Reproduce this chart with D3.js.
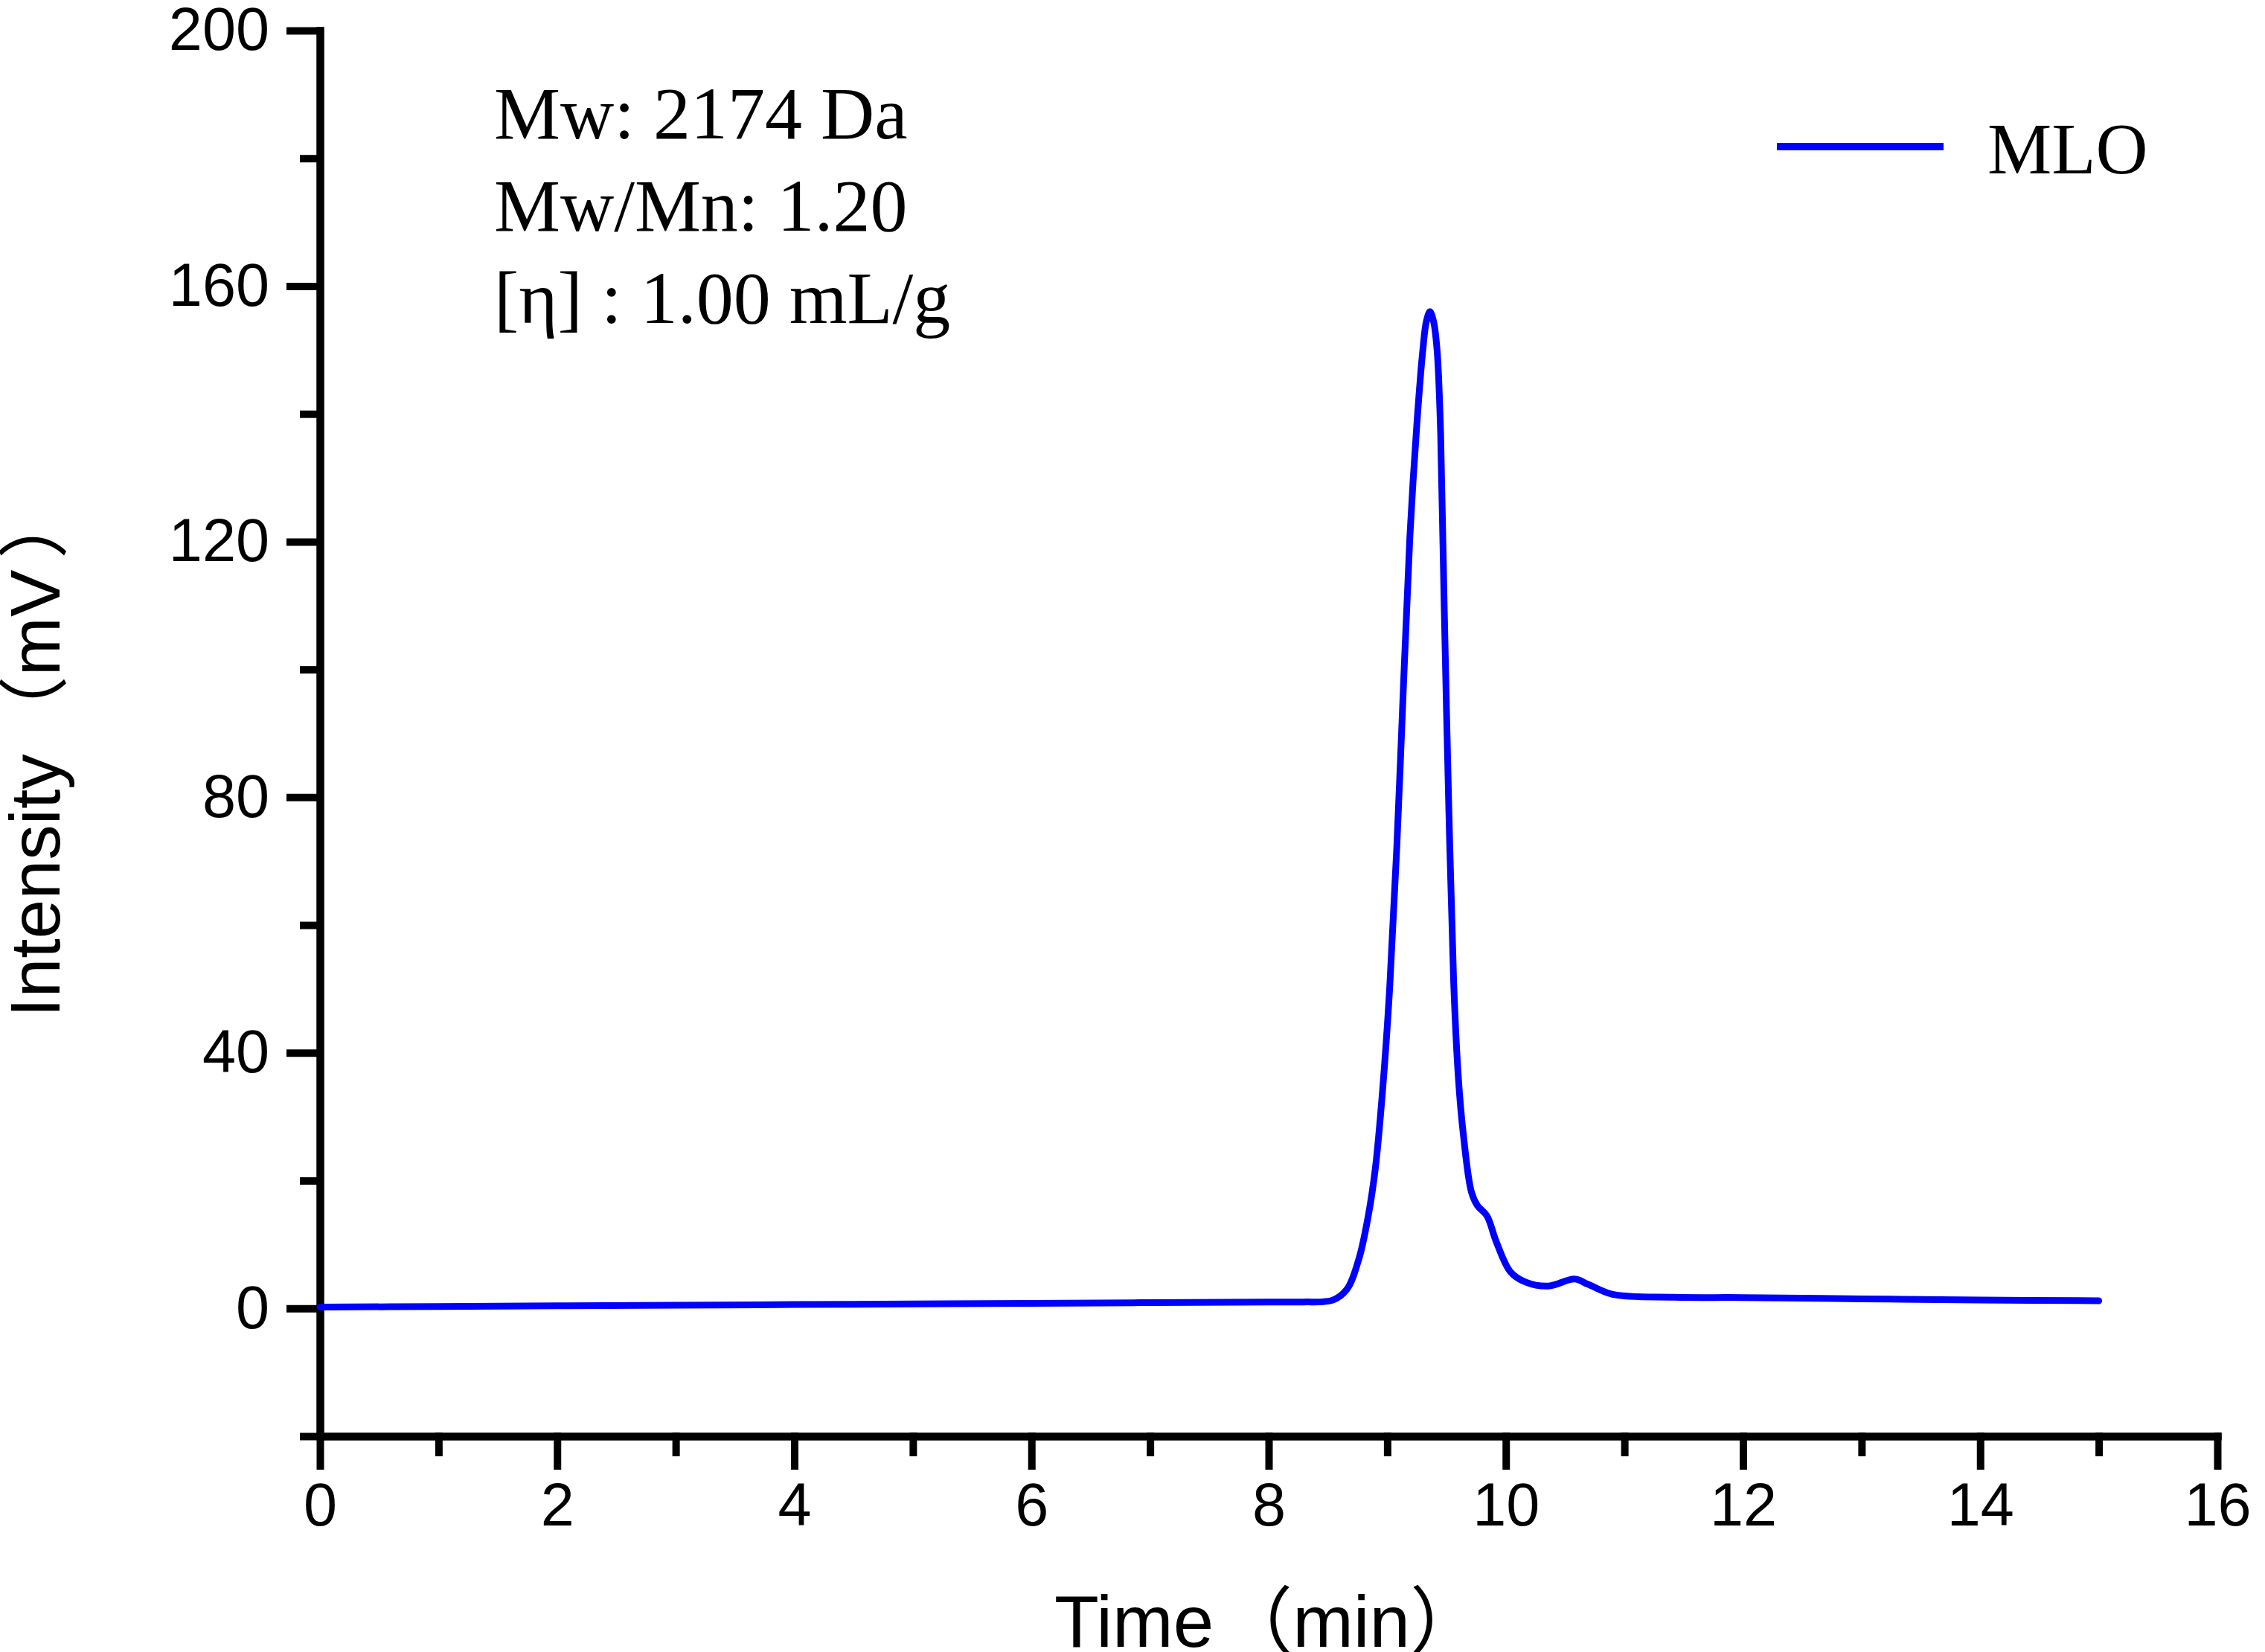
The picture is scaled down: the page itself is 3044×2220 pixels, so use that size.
<!DOCTYPE html>
<html>
<head>
<meta charset="utf-8">
<script src="https://cdn.jsdelivr.net/npm/d3@7"></script>
<style>
  body { margin: 0; background: #fff; }
  svg { display: block; }
</style>
</head>
<body>
<div id="chart"></div>
<script>
// GPC trace
var timeMin = [0, 1, 2, 3, 4, 5, 6, 7, 8, 8.29, 8.54, 8.66, 8.76, 8.84, 8.9, 8.96, 9.02, 9.08, 9.14, 9.19,
  9.25, 9.3, 9.33, 9.36, 9.39, 9.42, 9.45, 9.48, 9.52, 9.56, 9.6, 9.64, 9.71, 9.76, 9.84, 9.92, 10.04, 10.17,
  10.36, 10.58, 10.69, 10.9, 11.42, 12, 13, 14, 15]
var intensity = [0.2, 0.3, 0.4, 0.5, 0.6, 0.7, 0.8, 0.9, 1.0, 1.0, 1.3, 3.0, 7.7, 14.5, 22, 34, 50, 72, 99, 120.5,
  138.5, 150, 154.5, 156, 154.5, 150, 137, 110, 77.5, 51, 36, 27.5, 18.2, 16.1, 14.5, 10.4, 5.7, 4.1,
  3.5, 4.6, 3.8, 2.2, 1.75, 1.7, 1.5, 1.3, 1.2]

var xMajor = [0, 2, 4, 6, 8, 10, 12, 14, 16]
var xMinor = [1, 3, 5, 7, 9, 11, 13, 15]
var yMajor = [0, 40, 80, 120, 160, 200]
var yMinor = [-20, 20, 60, 100, 140, 180]

var notes = ["Mw: 2174 Da", "Mw/Mn: 1.20", "[η] : 1.00 mL/g"]
var seriesName = "MLO"

var W = 3044, H = 2220
var margin = {top: 41, right: 64, bottom: 290, left: 430}

var svg = d3.select("#chart").append("svg")
  .attr("width", W)
  .attr("height", H)

var x = d3.scaleLinear().domain([0, 16]).range([margin.left, W - margin.right])
var y = d3.scaleLinear().domain([-20, 200]).range([H - margin.bottom, margin.top])

var sans = "'Liberation Sans', Arial, 'Noto Sans CJK SC', sans-serif"
var serif = "'Liberation Serif', 'Times New Roman', serif"

// minor ticks first, then the major axis on top
svg.append("g")
  .attr("transform", "translate(0," + y(-20) + ")")
  .call(d3.axisBottom(x).tickValues(xMinor).tickSize(22).tickSizeOuter(0).tickFormat(""))
svg.append("g")
  .attr("transform", "translate(" + x(0) + ",0)")
  .call(d3.axisLeft(y).tickValues(yMinor).tickSize(22).tickSizeOuter(0).tickFormat(""))

svg.append("g")
  .attr("transform", "translate(0," + y(-20) + ")")
  .call(d3.axisBottom(x).tickValues(xMajor).tickSize(40).tickSizeOuter(0).tickPadding(22))
svg.append("g")
  .attr("transform", "translate(" + x(0) + ",0)")
  .call(d3.axisLeft(y).tickValues(yMajor).tickSize(40).tickSizeOuter(0).tickPadding(28))

svg.selectAll(".domain, .tick line")
  .attr("stroke", "#000")
  .attr("stroke-width", 10)
  .attr("stroke-linecap", "square")

svg.selectAll(".tick text")
  .style("font-family", sans)
  .style("font-size", "81px")
  .attr("fill", "#000")

// axis titles
var xTitle = svg.append("text")
  .attr("x", 1417)
  .attr("y", 2213)
  .style("font-family", sans)
  .style("font-size", "98px")
xTitle.append("tspan").text("Time")
xTitle.append("tspan").attr("dx", 8).text("（min）")

var yTitle = svg.append("text")
  .attr("transform", "translate(80,1367) rotate(-90)")
  .style("font-family", sans)
  .style("font-size", "95px")
yTitle.append("tspan").text("Intensity")
yTitle.append("tspan").attr("dx", 10).text("（mV")
yTitle.append("tspan").attr("dx", 15).text("）")

// trace
var line = d3.line()
  .x(function (d, i) { return x(timeMin[i]) })
  .y(function (d) { return y(d) })
  .curve(d3.curveCatmullRom.alpha(0.5))

svg.append("path")
  .datum(intensity)
  .attr("d", line)
  .attr("fill", "none")
  .attr("stroke", "#0000ff")
  .attr("stroke-width", 9)
  .attr("stroke-linejoin", "round")
  .attr("stroke-linecap", "round")

// sample info
svg.selectAll(".note")
  .data(notes)
  .enter().append("text")
    .attr("class", "note")
    .attr("x", 664)
    .attr("y", function (d, i) { return 186 + i * 124 })
    .style("font-family", serif)
    .style("font-size", "100px")
    .text(function (d) { return d })

// legend
svg.append("line")
  .attr("x1", 2388).attr("x2", 2612)
  .attr("y1", 197).attr("y2", 197)
  .attr("stroke", "#0000ff")
  .attr("stroke-width", 10)

svg.append("text")
  .attr("x", 2671)
  .attr("y", 233)
  .style("font-family", serif)
  .style("font-size", "97px")
  .text(seriesName)
</script>
</body>
</html>
